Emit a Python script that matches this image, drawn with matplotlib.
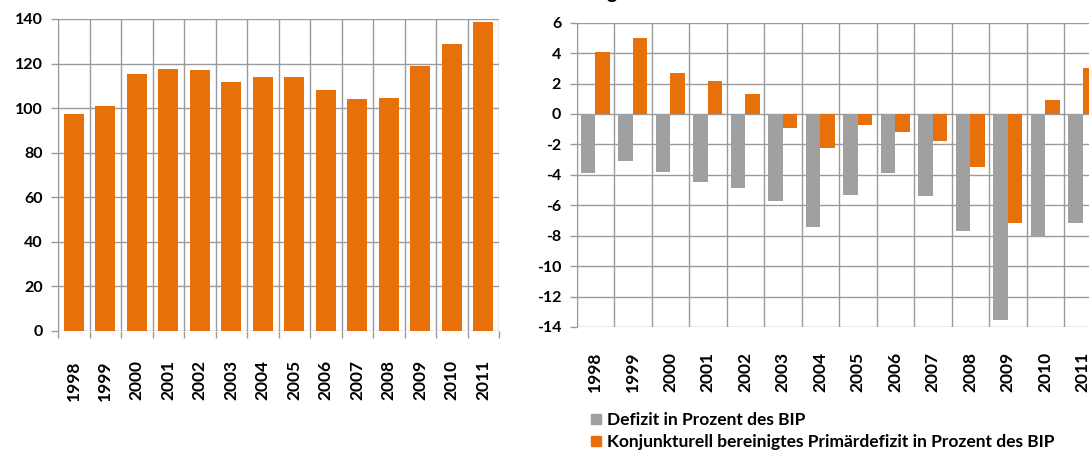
import matplotlib
matplotlib.use('Agg')
import matplotlib.pyplot as plt
from matplotlib.patches import Patch
import numpy as np

years = ['1998', '1999', '2000', '2001', '2002', '2003', '2004',
         '2005', '2006', '2007', '2008', '2009', '2010', '2011']
index_values = [97.5, 100.8, 115.2, 117.7, 117.3, 111.9, 114.0,
                114.0, 108.1, 104.0, 104.4, 118.8, 128.9, 138.5]
defizit = [-3.88, -3.09, -3.79, -4.47, -4.88, -5.70, -7.40,
           -5.30, -3.86, -5.39, -7.71, -13.54, -8.06, -7.14]
primaerdefizit = [4.10, 5.02, 2.72, 2.19, 1.31, -0.94, -2.26,
                  -0.74, -1.18, -1.77, -3.48, -7.16, 0.94, 3.02]
legend_labels = ['Defizit in Prozent des BIP',
                 'Konjunkturell bereinigtes Primärdefizit in Prozent des BIP']

ORANGE = '#E8700A'
GREY = '#A0A0A0'
GRID = '#9A9A9A'
FONT = 'Lato'

W, H = 1089, 454
fig = plt.figure(figsize=(W / 100, H / 100), dpi=100)


def style_axes(ax, ymin, ymax, step, xpad):
    n = len(years)
    ax.set_xlim(0, n)
    ax.set_ylim(ymin, ymax)
    ticks = np.arange(ymin, ymax + 0.1, step)
    ax.set_yticks(ticks)
    ax.set_yticklabels([f'{int(v)}' for v in ticks],
                       fontsize=11.5, fontweight='bold', family=FONT)
    ax.set_xticks(np.arange(n + 1))
    ax.set_xticklabels([])
    ax.set_xticks(np.arange(n) + 0.5, minor=True)
    ax.set_xticklabels(years, minor=True, rotation=90, fontsize=12.5,
                       fontweight='bold', family=FONT)
    ax.tick_params(axis='x', which='minor', length=0, pad=xpad)
    ax.tick_params(axis='x', which='major', length=5, color=GRID, width=1)
    ax.tick_params(axis='y', length=5, color=GRID, width=1, pad=6)
    ax.grid(True, which='major', color=GRID, linewidth=1)
    ax.set_axisbelow(True)
    for s in ax.spines.values():
        s.set_visible(False)
    ax.spines['left'].set_visible(True)
    ax.spines['left'].set_color(GRID)


# left chart
ax1 = fig.add_axes([58 / W, 1 - 331 / H, 441 / W, 312 / H])
x = np.arange(len(years)) + 0.5
ax1.bar(x, index_values, width=0.63, color=ORANGE, zorder=3)
style_axes(ax1, 0, 140, 20, 21)

# right chart (runs past the right edge of the picture)
ax2 = fig.add_axes([576.5 / W, 1 - 327 / H, 525 / W, 304.3 / H])
bw = 0.39
ax2.bar(x - bw / 2, defizit, width=bw, color=GREY, zorder=3)
ax2.bar(x + bw / 2, primaerdefizit, width=bw, color=ORANGE, zorder=3)
style_axes(ax2, -14, 6, 2, 18)
ax2.tick_params(axis='x', which='major', length=0)

handles = [Patch(color=GREY), Patch(color=ORANGE)]
fig.legend(handles, legend_labels, loc='upper left',
           bbox_to_anchor=(591 / W, 1 - 412 / H), frameon=False,
           prop={'family': FONT, 'size': 12.5, 'weight': 'bold'},
           handlelength=0.55, handleheight=0.55, handletextpad=0.35,
           labelspacing=0.35, borderaxespad=0, borderpad=0)

# descender of a cut-off title above the right chart
fig.text(612 / W, 1 + 7 / H, 'g', fontsize=14, fontweight='bold',
         family=FONT, ha='center', va='center')

fig.savefig('out.png', dpi=100)
